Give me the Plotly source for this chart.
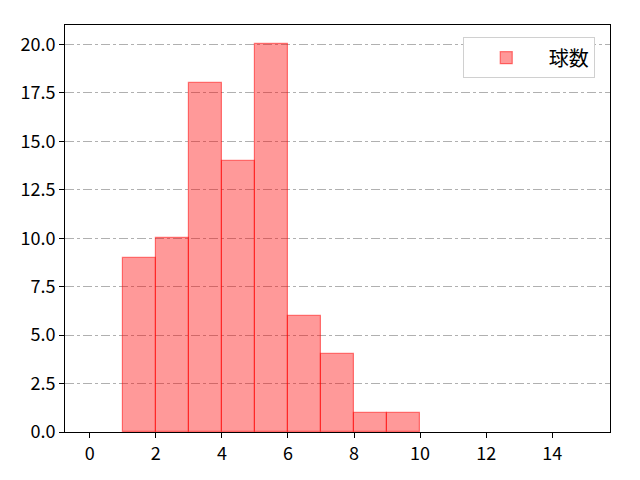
import plotly.graph_objects as go

# histogram bins (left edges) and counts
bin_left = [1, 2, 3, 4, 5, 6, 7, 8, 9]
counts = [9, 10, 18, 14, 20, 6, 4, 1, 1]
series_name = "球数"
x_ticks = [0, 2, 4, 6, 8, 10, 12, 14]
y_ticks = [0.0, 2.5, 5.0, 7.5, 10.0, 12.5, 15.0, 17.5, 20.0]

fig = go.Figure()
fig.add_trace(go.Bar(
    x=[b + 0.5 for b in bin_left],
    y=counts,
    width=1,
    name=series_name,
    marker=dict(color="rgba(255,0,0,0.4)",
                line=dict(color="rgba(255,0,0,0.5)", width=1.2)),
    showlegend=True,
))

fig.update_layout(
    width=640, height=480,
    margin=dict(l=57, r=38, t=17, b=56),
    plot_bgcolor="white", paper_bgcolor="white",
    font=dict(family="Noto Sans CJK JP", size=18, color="black"),
    bargap=0,
    showlegend=True,
    legend=dict(x=0.972, y=0.97, xanchor="right", yanchor="top",
                bgcolor="white", bordercolor="#d0d0d0", borderwidth=1,
                itemwidth=75, font=dict(size=20)),
    xaxis=dict(range=[-0.75, 15.75], tickvals=x_ticks,
               showgrid=False, zeroline=False,
               showline=True, linecolor="black", mirror=True,
               ticks="outside", ticklen=5, tickcolor="black"),
    yaxis=dict(range=[0, 21], tickvals=y_ticks,
               ticktext=[f"{v:.1f}" for v in y_ticks],
               showgrid=True, gridcolor="#b0b0b0", griddash="dashdot",
               gridwidth=1, zeroline=False,
               showline=True, linecolor="black", mirror=True,
               ticks="outside", ticklen=5, tickcolor="black"),
)

fig.write_html("out.html")
